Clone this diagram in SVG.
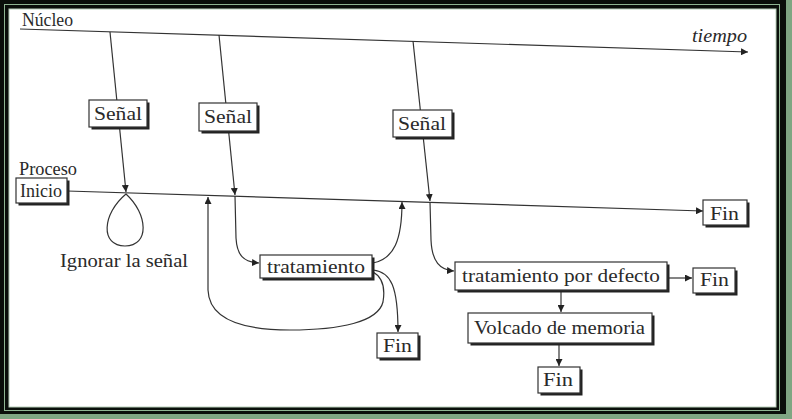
<svg xmlns="http://www.w3.org/2000/svg" width="792" height="419" viewBox="0 0 792 419">
<style>
.t{font-family:"Liberation Serif","DejaVu Serif",serif;fill:#2a2a2a;font-size:19px}
.ln{fill:none;stroke:#333;stroke-width:1.2}
.bx{fill:#fff;stroke:#333;stroke-width:1.2}
.sh{fill:#222}
</style>
<defs>
<marker id="ah" viewBox="0 0 10 10" refX="10" refY="5" markerWidth="7" markerHeight="7" markerUnits="userSpaceOnUse" orient="auto">
<path d="M0,0 L10,5 L0,10 Z" fill="#222"/>
</marker>
</defs>
<g id="frame">
<rect x="0" y="0" width="792" height="419" fill="#7fa682"/>
<rect x="0" y="0" width="786" height="414" fill="#0a0f0a"/>
<rect x="4.5" y="4.5" width="775" height="406" fill="none" stroke="#8fb592" stroke-width="1"/>
<rect x="9" y="9" width="767" height="398" fill="#fff" stroke="#b8cfb9" stroke-width="1"/>
</g>
<g id="labels">
<text class="t" x="22" y="26" textLength="51" lengthAdjust="spacingAndGlyphs" font-size="18">Núcleo</text>
<text class="t" x="692" y="42" textLength="55" lengthAdjust="spacingAndGlyphs" font-style="italic" font-size="17">tiempo</text>
<text class="t" x="19" y="175" textLength="58" lengthAdjust="spacingAndGlyphs" font-size="18">Proceso</text>
<text class="t" x="60" y="267" textLength="128" lengthAdjust="spacingAndGlyphs">Ignorar la señal</text>
</g>
<g id="connectors">
<path class="ln" d="M20,29 L748,52" marker-end="url(#ah)"/>
<path class="ln" d="M67,191 L703,211" marker-end="url(#ah)"/>
<path class="ln" d="M110,32 L126,192" marker-end="url(#ah)"/>
<path class="ln" d="M126,194 C102,214 100,246 125,246 C150,246 148,214 126,194 Z"/>
<path class="ln" d="M219,35 L235,195" marker-end="url(#ah)"/>
<path class="ln" d="M235,196 L236,238 C237,256 244,262 259,263" marker-end="url(#ah)"/>
<path class="ln" d="M413,41 L430,201" marker-end="url(#ah)"/>
<path class="ln" d="M430,202 L431,240 C432,262 440,270 454,271" marker-end="url(#ah)"/>
<path class="ln" d="M373,263 C394,259 402,240 402,202" marker-end="url(#ah)"/>
<path class="ln" d="M373,270 C391,272 398,286 398,332" marker-end="url(#ah)"/>
<path class="ln" d="M373,272 C384,278 385,290 383,302 C378,322 340,330 290,330 C240,330 209,318 208,290 L208,197" marker-end="url(#ah)"/>
<path class="ln" d="M667,278 L692,278" marker-end="url(#ah)"/>
<path class="ln" d="M561,290 L561,312" marker-end="url(#ah)"/>
<path class="ln" d="M559,343 L559,366" marker-end="url(#ah)"/>
</g>
<g id="senal1"><rect class="sh" x="91.5" y="102.5" width="58" height="27"/><rect class="bx" x="89" y="100" width="58" height="27"/><text class="t" x="94" y="120" textLength="48" lengthAdjust="spacingAndGlyphs">Señal</text></g>
<g id="senal2"><rect class="sh" x="201.5" y="105.5" width="58" height="28"/><rect class="bx" x="199" y="103" width="58" height="28"/><text class="t" x="204" y="123" textLength="48" lengthAdjust="spacingAndGlyphs">Señal</text></g>
<g id="senal3"><rect class="sh" x="395.5" y="112.5" width="59" height="27"/><rect class="bx" x="393" y="110" width="59" height="27"/><text class="t" x="398" y="130" textLength="48" lengthAdjust="spacingAndGlyphs">Señal</text></g>
<g id="inicio"><rect class="sh" x="18.5" y="180.5" width="51" height="25"/><rect class="bx" x="16" y="178" width="51" height="25"/><text class="t" x="20" y="197" textLength="42" lengthAdjust="spacingAndGlyphs" font-size="18">Inicio</text></g>
<g id="fin1"><rect class="sh" x="705.5" y="202.5" width="44" height="25"/><rect class="bx" x="703" y="200" width="44" height="25"/><text class="t" x="710" y="220" textLength="29" lengthAdjust="spacingAndGlyphs">Fin</text></g>
<g id="tratamiento"><rect class="sh" x="262.5" y="257.5" width="112" height="23"/><rect class="bx" x="260" y="255" width="112" height="23"/><text class="t" x="267" y="273" textLength="98" lengthAdjust="spacingAndGlyphs">tratamiento</text></g>
<g id="fin2"><rect class="sh" x="379.5" y="335.5" width="41" height="25"/><rect class="bx" x="377" y="333" width="41" height="25"/><text class="t" x="383" y="352" textLength="29" lengthAdjust="spacingAndGlyphs">Fin</text></g>
<g id="tdefecto"><rect class="sh" x="457.5" y="264.5" width="212" height="28"/><rect class="bx" x="455" y="262" width="212" height="28"/><text class="t" x="462" y="282" textLength="198" lengthAdjust="spacingAndGlyphs">tratamiento por defecto</text></g>
<g id="fin3"><rect class="sh" x="695.5" y="270.5" width="42" height="25"/><rect class="bx" x="693" y="268" width="42" height="25"/><text class="t" x="700" y="286" textLength="29" lengthAdjust="spacingAndGlyphs">Fin</text></g>
<g id="volcado"><rect class="sh" x="470.5" y="315.5" width="184" height="30"/><rect class="bx" x="468" y="313" width="184" height="30"/><text class="t" x="474" y="334" textLength="171" lengthAdjust="spacingAndGlyphs">Volcado de memoria</text></g>
<g id="fin4"><rect class="sh" x="540.5" y="369.5" width="42" height="26"/><rect class="bx" x="538" y="367" width="42" height="26"/><text class="t" x="543" y="386" textLength="30" lengthAdjust="spacingAndGlyphs">Fin</text></g>
</svg>
